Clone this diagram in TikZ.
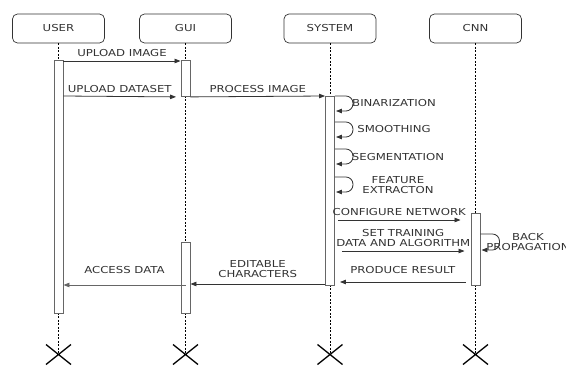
\documentclass[tikz,border=0pt]{standalone}
\usepackage{fontspec}
\setmainfont{DejaVu Sans}[FakeStretch=1.22]
\usepackage{xcolor}
\usetikzlibrary{calc, arrows.meta}

\definecolor{ink}{HTML}{333333}
\definecolor{edge}{HTML}{666666}

\begin{document}
\begin{tikzpicture}[x = 1pt, y = -1pt,
		font = \fontsize{9.6}{10}\selectfont, text = ink,
		actor/.style = {draw = ink, line width = 0.7pt, rounded corners = 5pt, minimum width = 92pt, minimum height = 29pt},
		lifeline/.style = {draw = black, line width = 0.6pt, dash pattern = on 2pt off 1.5pt},
		activation/.style = {draw = edge, fill = white, line width = 0.9pt, minimum width = 9pt, inner sep = 0pt, anchor = north},
		msg/.style = {draw = ink, line width = 0.8pt, -{Triangle[length = 6pt, width = 4.5pt]}},
		selfmsg/.style = {msg, rounded corners = 7pt},
		lbl/.style = {inner sep = 0pt, align = center},
		kill/.style = {draw = black, line width = 1.3pt}]
		\def\xr{12.5};
		\def\yr{10};
		
		\useasboundingbox (0,0) rectangle (566,365);
		
		% participants
		\node [actor] (user) at (58.5,28.5) {USER};
		\node [actor] (gui) at (185.5,28.5) {GUI};
		\node [actor] (system) at (330,28.5) {SYSTEM};
		\node [actor] (cnn) at (475.5,28.5) {CNN};
		
		\coordinate (user end) at (user.south |- 0,354.5);
		\coordinate (gui end) at (gui.south |- 0,354.5);
		\coordinate (system end) at (system.south |- 0,354.5);
		\coordinate (cnn end) at (cnn.south |- 0,354.5);
		
		\draw [lifeline] (user) -- (user end);
		\draw [lifeline] (gui) -- (gui end);
		\draw [lifeline] (system) -- (system end);
		\draw [lifeline] (cnn) -- (cnn end);
		
		% activations
		\node [activation, minimum height = 253pt] (user act) at (user.south |- 0,60) {};
		\node [activation, minimum height = 36pt] (gui act1) at (gui.south |- 0,60) {};
		\node [activation, minimum height = 71pt] (gui act2) at (gui.south |- 0,242) {};
		\node [activation, minimum height = 189pt] (system act) at (system.south |- 0,96) {};
		\node [activation, minimum height = 72pt] (cnn act) at (cnn.south |- 0,213) {};
		
		% messages
		\draw [msg] (user act.east |- 0,61) -- (gui act1.west |- 0,61) node [lbl, midway, above = 3.7pt] {UPLOAD IMAGE};
		\draw [msg] (user act.east |- 0,96) -- ($ (gui act1.south west) + (-4.5,0) $) node [lbl, midway, above = 3.4pt] {UPLOAD DATASET};
		\draw [msg] (gui act1.south east) -- (system act.north west) node [lbl, midway, above = 3.4pt] {PROCESS IMAGE};
		
		\draw [selfmsg] (system act.east |- 0,96) -- ++(18,0) |- ($ (system act.east |- 0,111) + (1,0) $);
		\node [lbl] (binarization) at (394,103.5) {BINARIZATION};
		\draw [selfmsg] (system act.east |- 0,122) -- ++(18,0) |- ($ (system act.east |- 0,137) + (1,0) $);
		\node [lbl] (smoothing) at (394,129) {SMOOTHING};
		\draw [selfmsg] (system act.east |- 0,149) -- ++(18,0) |- ($ (system act.east |- 0,164) + (1,0) $);
		\node [lbl] (segmentation) at (398,157) {SEGMENTATION};
		\draw [selfmsg] (system act.east |- 0,177) -- ++(18,0) |- ($ (system act.east |- 0,192) + (1,0) $);
		\node [lbl] (feature) at (398,185) {FEATURE\\EXTRACTON};
		
		\draw [msg] ($ (system act.east |- 0,220) + (3,0) $) -- ($ (cnn act.west |- 0,220) + (-10,0) $) node [lbl, midway, above = 3.5pt] {CONFIGURE NETWORK};
		\draw [msg] ($ (system act.east |- 0,251) + (7,0) $) -- ($ (cnn act.west |- 0,251) + (-6,0) $) node [lbl, midway, above = 3.7pt] {SET TRAINING\\DATA AND ALGORITHM};
		
		\draw [selfmsg] (cnn act.east |- 0,234) -- ++(19,0) |- ($ (cnn act.east |- 0,250) + (1,0) $);
		\node [lbl] (backprop) at (528,242) {BACK\\PROPAGATION};
		
		\draw [msg] ($ (cnn act.west |- 0,282) + (-5,0) $) -- ($ (system act.east |- 0,282) + (5,0) $) node [lbl, midway, above = 8pt] {PRODUCE RESULT};
		\draw [msg] (system act.west |- 0,284) -- (gui act2.east |- 0,284) node [lbl, midway, above = 5.7pt] {EDITABLE\\CHARACTERS};
		\draw [msg, draw = edge] (gui act2.center |- 0,285) -- (user act.east |- 0,285) node [lbl, midway, above = 11pt] {ACCESS DATA};
		
		% destruction
		\draw [kill] ($ (user end) + (-\xr,-\yr) $) -- ($ (user end) + (\xr,\yr) $) ($ (user end) + (-\xr,\yr) $) -- ($ (user end) + (\xr,-\yr) $);
		\draw [kill] ($ (gui end) + (-\xr,-\yr) $) -- ($ (gui end) + (\xr,\yr) $) ($ (gui end) + (-\xr,\yr) $) -- ($ (gui end) + (\xr,-\yr) $);
		\draw [kill] ($ (system end) + (-\xr,-\yr) $) -- ($ (system end) + (\xr,\yr) $) ($ (system end) + (-\xr,\yr) $) -- ($ (system end) + (\xr,-\yr) $);
		\draw [kill] ($ (cnn end) + (-\xr,-\yr) $) -- ($ (cnn end) + (\xr,\yr) $) ($ (cnn end) + (-\xr,\yr) $) -- ($ (cnn end) + (\xr,-\yr) $);
	\end{tikzpicture}
\end{document}
